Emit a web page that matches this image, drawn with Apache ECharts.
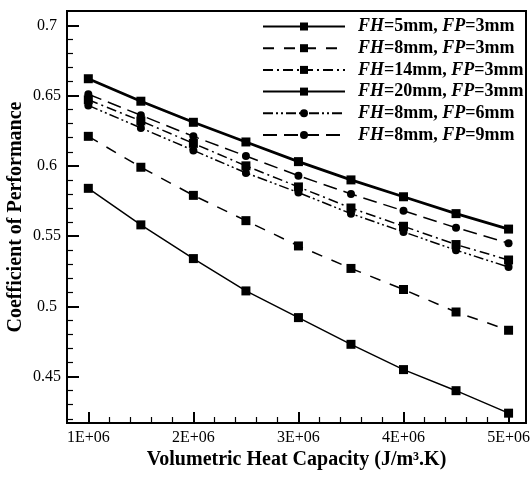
<!DOCTYPE html>
<html>
<head>
<meta charset="utf-8">
<script src="https://cdn.jsdelivr.net/npm/echarts@6/dist/echarts.min.js"></script>
<style>
html,body{margin:0;padding:0;background:#fff;}
#chart{width:530px;height:479px;}
</style>
</head>
<body>
<div id="chart"></div>
<script>
// ---- data ----
const xValues = [1000000, 1500000, 2000000, 2500000, 3000000, 3500000, 4000000, 4500000, 5000000];
const seriesNames = ['FH=5mm, FP=3mm', 'FH=8mm, FP=3mm', 'FH=14mm, FP=3mm', 'FH=20mm, FP=3mm', 'FH=8mm, FP=6mm', 'FH=8mm, FP=9mm'];
const fh5fp3  = [0.584, 0.558, 0.534, 0.511, 0.492, 0.473, 0.455, 0.440, 0.424];
const fh8fp3  = [0.621, 0.599, 0.579, 0.561, 0.543, 0.527, 0.512, 0.496, 0.483];
const fh14fp3 = [0.647, 0.632, 0.616, 0.600, 0.585, 0.570, 0.557, 0.544, 0.533];
const fh20fp3 = [0.662, 0.646, 0.631, 0.617, 0.603, 0.590, 0.578, 0.566, 0.555];
const fh8fp6  = [0.643, 0.627, 0.611, 0.595, 0.581, 0.566, 0.553, 0.540, 0.528];
const fh8fp9  = [0.651, 0.636, 0.621, 0.607, 0.593, 0.580, 0.568, 0.556, 0.545];
const xMajorTicks = [1000000, 2000000, 3000000, 4000000, 5000000];
const xTickLabels = ['1E+06', '2E+06', '3E+06', '4E+06', '5E+06'];
const xMinorTicks = [1200000, 1400000, 1600000, 1800000, 2200000, 2400000, 2600000, 2800000, 3200000, 3400000, 3600000, 3800000, 4200000, 4400000, 4600000, 4800000];
const yMajorTicks = [0.45, 0.5, 0.55, 0.6, 0.65, 0.7];
const yTickLabels = ['0.45', '0.5', '0.55', '0.6', '0.65', '0.7'];
const yMinorTicks = [0.42, 0.43, 0.44, 0.46, 0.47, 0.48, 0.49, 0.51, 0.52, 0.53, 0.54, 0.56, 0.57, 0.58, 0.59, 0.61, 0.62, 0.63, 0.64, 0.66, 0.67, 0.68, 0.69];
const xTitle = 'Volumetric Heat Capacity (J/m³.K)';
const yTitle = 'Coefficient of Performance';

// ---- styles ----
const serif = 'Liberation Serif';
const allValues = [fh5fp3, fh8fp3, fh14fp3, fh20fp3, fh8fp6, fh8fp9];
const styles = [
  {symbol: 'rect', size: 9, width: 1.5, type: 'solid'},
  {symbol: 'rect', size: 9, width: 1.5, type: [11, 10]},
  {symbol: 'rect', size: 9, width: 1.5, type: [10, 4, 2, 4]},
  {symbol: 'rect', size: 9, width: 2.8, type: 'solid'},
  {symbol: 'circle', size: 8, width: 1.5, type: [10, 3, 2, 3, 2, 3]},
  {symbol: 'circle', size: 8, width: 1.5, type: [14, 7]}
];

const series = seriesNames.map((name, i) => ({
  name: name,
  type: 'line',
  xAxisIndex: 0,
  yAxisIndex: 0,
  data: xValues.map((x, j) => [x, allValues[i][j]]),
  symbol: styles[i].symbol,
  symbolSize: styles[i].size,
  showAllSymbol: true,
  itemStyle: {color: '#000'},
  lineStyle: {color: '#000', width: styles[i].width, type: styles[i].type},
  animation: false
}));

const X_MIN = 797000, X_MAX = 5166000, Y_MIN = 0.417, Y_MAX = 0.7102;

const chart = echarts.init(document.getElementById('chart'), null, {renderer: 'canvas'});
chart.setOption({
  animation: false,
  backgroundColor: '#fff',
  grid: {left: 67, right: 4, top: 11, bottom: 56, containLabel: false, outerBoundsMode: 'none',
    show: true, borderColor: '#000', borderWidth: 2, backgroundColor: 'transparent'},
  legend: {
    orient: 'vertical',
    left: 262,
    top: 17,
    padding: 0,
    itemGap: 2.7,
    itemWidth: 82,
    itemHeight: 10,
    data: seriesNames,
    formatter: function (name) {
      const parts = name.split(', ');
      const a = parts[0].split('=');
      const b = parts[1].split('=');
      return '{i|' + a[0] + '}{n|=' + a[1] + ', }{i|' + b[0] + '}{n|=' + b[1] + '}';
    },
    textStyle: {
      padding: [0, 0, 0, 8],
      lineHeight: 19,
      rich: {
        i: {fontFamily: serif, fontSize: 18, fontWeight: 'bold', fontStyle: 'italic', color: '#000', lineHeight: 19},
        n: {fontFamily: serif, fontSize: 18, fontWeight: 'bold', color: '#000', lineHeight: 19}
      }
    }
  },
  xAxis: [{
    type: 'value', position: 'bottom', min: X_MIN, max: X_MAX,
    name: xTitle, nameLocation: 'middle', nameGap: 27, nameMoveOverlap: false,
    nameTextStyle: {fontFamily: serif, fontSize: 20, fontWeight: 'bold', color: '#000'},
    axisLine: {show: true, lineStyle: {color: '#000', width: 2}},
    axisTick: {show: true, inside: true, length: 11, lineStyle: {color: '#000', width: 2}, customValues: xMajorTicks},
    axisLabel: {show: true, margin: 7, fontFamily: serif, fontSize: 16, color: '#000', customValues: xMajorTicks,
      formatter: v => { const k = xMajorTicks.indexOf(v); return k >= 0 ? xTickLabels[k] : ''; }},
    splitLine: {show: false}
  }, {
    type: 'value', position: 'bottom', min: X_MIN, max: X_MAX,
    axisLine: {show: false},
    axisTick: {show: true, inside: true, length: 6, lineStyle: {color: '#000', width: 1.2}, customValues: xMinorTicks},
    axisLabel: {show: false},
    splitLine: {show: false}
  }],
  yAxis: [{
    type: 'value', position: 'left', min: Y_MIN, max: Y_MAX,
    name: yTitle, nameLocation: 'middle', nameGap: 41, nameMoveOverlap: false,
    nameTextStyle: {fontFamily: serif, fontSize: 20, fontWeight: 'bold', color: '#000'},
    axisLine: {show: true, lineStyle: {color: '#000', width: 2}},
    axisTick: {show: true, inside: true, length: 12, lineStyle: {color: '#000', width: 2}, customValues: yMajorTicks},
    axisLabel: {show: true, margin: 20, align: 'center', fontFamily: serif, fontSize: 16, color: '#000', customValues: yMajorTicks,
      formatter: v => { const k = yMajorTicks.findIndex(t => Math.abs(t - v) < 1e-9); return k >= 0 ? yTickLabels[k] : ''; }},
    splitLine: {show: false}
  }, {
    type: 'value', position: 'left', min: Y_MIN, max: Y_MAX,
    axisLine: {show: false},
    axisTick: {show: true, inside: true, length: 6, lineStyle: {color: '#000', width: 1.2}, customValues: yMinorTicks},
    axisLabel: {show: false},
    splitLine: {show: false}
  }],
  series: series
});
</script>
</body>
</html>
